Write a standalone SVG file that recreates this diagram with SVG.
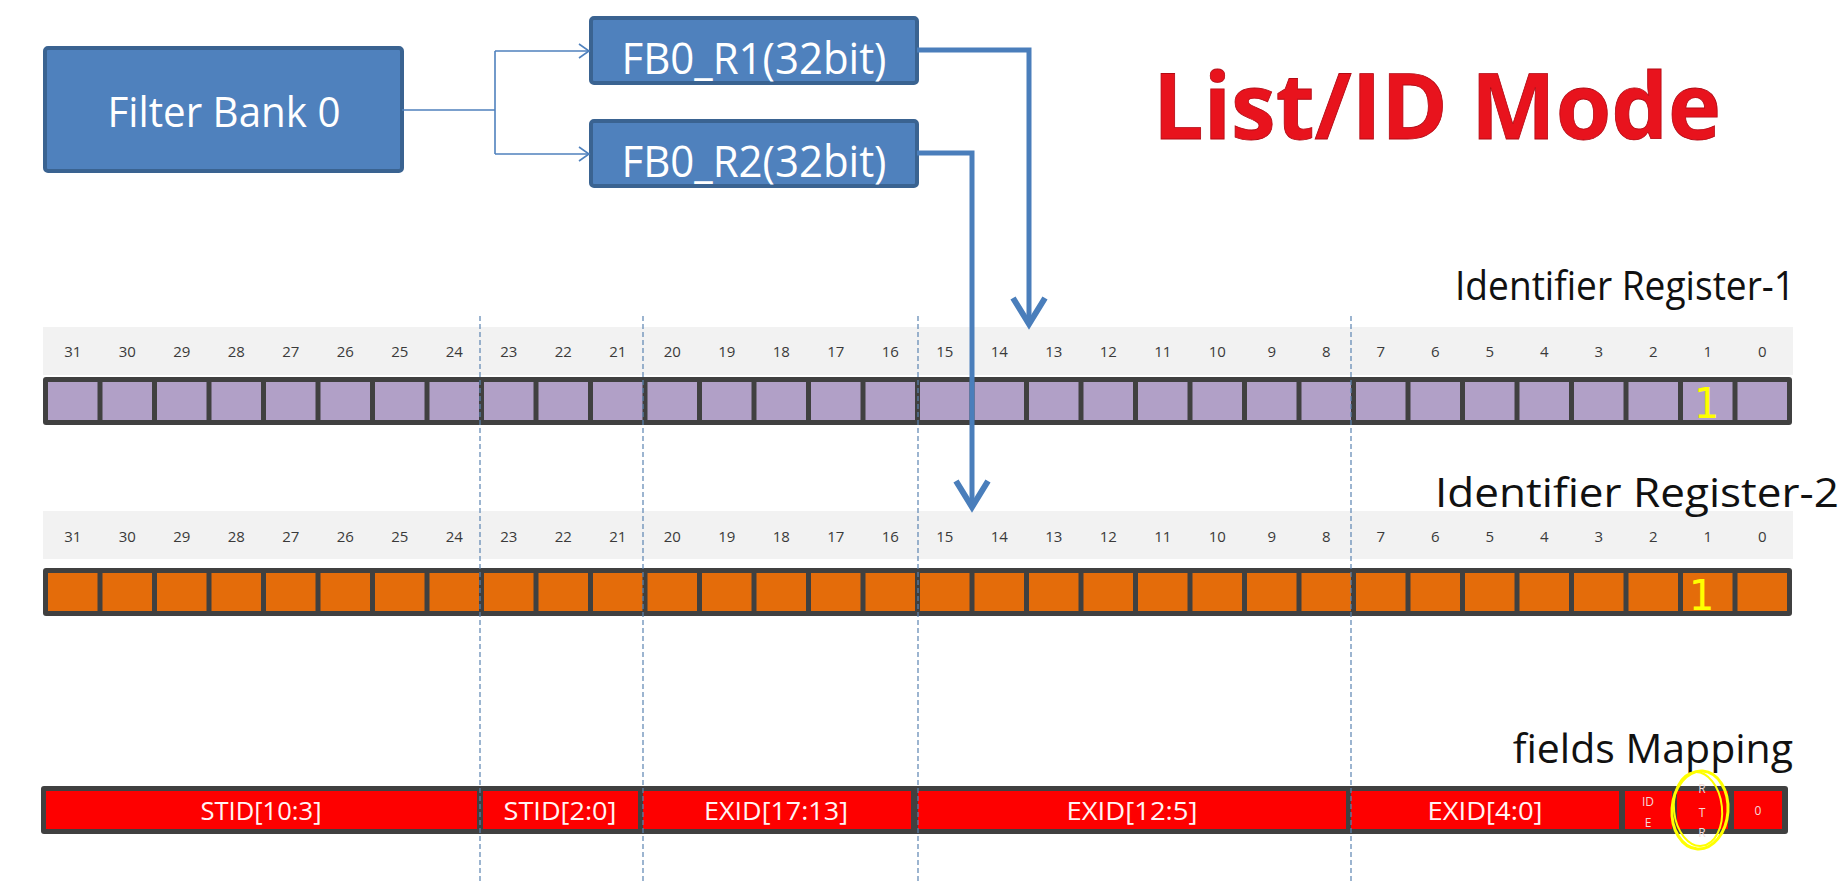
<svg xmlns="http://www.w3.org/2000/svg" width="1848" height="884" viewBox="0 0 1848 884">
<style>
.box{fill:#4f81bd;stroke:#3a6391;stroke-width:4}
.boxt{font-family:"Open Sans","Liberation Sans",sans-serif;fill:#fff;text-anchor:middle}
.strip{fill:#f2f2f2}
.bar{fill:#404040}
.pc{fill:#b1a0c7}
.oc{fill:#e46c0a}
.rc{fill:#fe0000}
.num{font-family:"Open Sans","Liberation Sans",sans-serif;font-size:15px;fill:#3a3a3a;text-anchor:middle}
.lbl{font-family:"Open Sans","Liberation Sans",sans-serif;font-size:41px;fill:#111;text-anchor:end}
.ft{font-family:"Open Sans","Liberation Sans",sans-serif;font-size:25px;fill:#fff4f4;text-anchor:middle}
.sm{font-family:"Open Sans","Liberation Sans",sans-serif;font-size:12px;fill:#f4dada;text-anchor:middle}
.one{font-family:"DejaVu Sans Mono","Liberation Mono",monospace;font-size:42px;fill:#ffff00;text-anchor:middle}
.dash{stroke:#5b84b1;stroke-width:1.2;stroke-dasharray:5 3;fill:none}
.thin{stroke:#4f81bd;stroke-width:1.6;fill:none}
.thick{stroke:#4a7ebb;stroke-width:5;fill:none;stroke-linejoin:miter}
</style>
<defs>
<marker id="ah" markerUnits="userSpaceOnUse" viewBox="-14 -10 20 20" markerWidth="20" markerHeight="20" refX="0" refY="0" orient="auto" overflow="visible">
<path d="M-10,-7 L0,0 L-10,7" fill="none" stroke="#4f81bd" stroke-width="1.6"/>
</marker>
<marker id="bh" markerUnits="userSpaceOnUse" viewBox="-34 -20 40 40" markerWidth="40" markerHeight="40" refX="0" refY="0" orient="auto" overflow="visible">
<path d="M-27,-16 L-1,0 L-27,16" fill="none" stroke="#4a7ebb" stroke-width="6" stroke-linejoin="miter"/>
</marker>
</defs>
<rect width="1848" height="884" fill="#fff"/>

<text x="1153" y="139" font-family="'Open Sans','Liberation Sans',sans-serif" font-weight="bold" font-size="91" fill="#e8131d" stroke="#b30a14" stroke-width="0.8" textLength="568" lengthAdjust="spacingAndGlyphs">List/ID Mode</text>

<g id="filter-bank-0">
<rect class="box" x="45" y="48" width="357" height="123" rx="3"/>
<text class="boxt" x="224" y="127" font-size="42" textLength="233" lengthAdjust="spacingAndGlyphs">Filter Bank 0</text>
</g>
<g id="fb0-r1">
<rect class="box" x="591" y="18" width="326" height="65" rx="3"/>
<text class="boxt" x="754" y="74" font-size="44" textLength="265" lengthAdjust="spacingAndGlyphs">FB0_R1(32bit)</text>
</g>
<g id="fb0-r2">
<rect class="box" x="591" y="121" width="326" height="65" rx="3"/>
<text class="boxt" x="754" y="177" font-size="44" textLength="265" lengthAdjust="spacingAndGlyphs">FB0_R2(32bit)</text>
</g>

<g id="register-1">
<rect class="strip" x="43" y="327" width="1750" height="48"/>
<text class="lbl" x="1795" y="300" font-size="38" textLength="340" lengthAdjust="spacingAndGlyphs">Identifier Register-1</text>
<rect class="bar" x="43" y="377" width="1749" height="48" rx="3"/>
<g class="pc">
<rect x="48" y="382" width="49.5" height="38"/><rect x="102.5" y="382" width="49.5" height="38"/><rect x="157" y="382" width="49.5" height="38"/><rect x="211.5" y="382" width="49.5" height="38"/><rect x="266" y="382" width="49.5" height="38"/><rect x="320.5" y="382" width="49.5" height="38"/><rect x="375" y="382" width="49.5" height="38"/><rect x="429.5" y="382" width="49.5" height="38"/><rect x="484" y="382" width="49.5" height="38"/><rect x="538.5" y="382" width="49.5" height="38"/><rect x="593" y="382" width="49.5" height="38"/><rect x="647.5" y="382" width="49.5" height="38"/><rect x="702" y="382" width="49.5" height="38"/><rect x="756.5" y="382" width="49.5" height="38"/><rect x="811" y="382" width="49.5" height="38"/><rect x="865.5" y="382" width="49.5" height="38"/><rect x="920" y="382" width="49.5" height="38"/><rect x="974.5" y="382" width="49.5" height="38"/><rect x="1029" y="382" width="49.5" height="38"/><rect x="1083.5" y="382" width="49.5" height="38"/><rect x="1138" y="382" width="49.5" height="38"/><rect x="1192.5" y="382" width="49.5" height="38"/><rect x="1247" y="382" width="49.5" height="38"/><rect x="1301.5" y="382" width="49.5" height="38"/><rect x="1356" y="382" width="49.5" height="38"/><rect x="1410.5" y="382" width="49.5" height="38"/><rect x="1465" y="382" width="49.5" height="38"/><rect x="1519.5" y="382" width="49.5" height="38"/><rect x="1574" y="382" width="49.5" height="38"/><rect x="1628.5" y="382" width="49.5" height="38"/><rect x="1683" y="382" width="49.5" height="38"/><rect x="1737.5" y="382" width="49.5" height="38"/>
</g>
<g class="num">
<text x="72.75" y="357">31</text><text x="127.25" y="357">30</text><text x="181.75" y="357">29</text><text x="236.25" y="357">28</text><text x="290.75" y="357">27</text><text x="345.25" y="357">26</text><text x="399.75" y="357">25</text><text x="454.25" y="357">24</text><text x="508.75" y="357">23</text><text x="563.25" y="357">22</text><text x="617.75" y="357">21</text><text x="672.25" y="357">20</text><text x="726.75" y="357">19</text><text x="781.25" y="357">18</text><text x="835.75" y="357">17</text><text x="890.25" y="357">16</text><text x="944.75" y="357">15</text><text x="999.25" y="357">14</text><text x="1053.75" y="357">13</text><text x="1108.25" y="357">12</text><text x="1162.75" y="357">11</text><text x="1217.25" y="357">10</text><text x="1271.75" y="357">9</text><text x="1326.25" y="357">8</text><text x="1380.75" y="357">7</text><text x="1435.25" y="357">6</text><text x="1489.75" y="357">5</text><text x="1544.25" y="357">4</text><text x="1598.75" y="357">3</text><text x="1653.25" y="357">2</text><text x="1707.75" y="357">1</text><text x="1762.25" y="357">0</text>
</g>
<text class="one" x="1706" y="418">1</text>
</g>

<g id="register-2">
<rect class="strip" x="43" y="511" width="1750" height="48"/>
<text class="lbl" x="1839" y="507" font-size="43" textLength="404" lengthAdjust="spacingAndGlyphs">Identifier Register-2</text>
<rect class="bar" x="43" y="568" width="1749" height="48" rx="3"/>
<g class="oc">
<rect x="48" y="573" width="49.5" height="38"/><rect x="102.5" y="573" width="49.5" height="38"/><rect x="157" y="573" width="49.5" height="38"/><rect x="211.5" y="573" width="49.5" height="38"/><rect x="266" y="573" width="49.5" height="38"/><rect x="320.5" y="573" width="49.5" height="38"/><rect x="375" y="573" width="49.5" height="38"/><rect x="429.5" y="573" width="49.5" height="38"/><rect x="484" y="573" width="49.5" height="38"/><rect x="538.5" y="573" width="49.5" height="38"/><rect x="593" y="573" width="49.5" height="38"/><rect x="647.5" y="573" width="49.5" height="38"/><rect x="702" y="573" width="49.5" height="38"/><rect x="756.5" y="573" width="49.5" height="38"/><rect x="811" y="573" width="49.5" height="38"/><rect x="865.5" y="573" width="49.5" height="38"/><rect x="920" y="573" width="49.5" height="38"/><rect x="974.5" y="573" width="49.5" height="38"/><rect x="1029" y="573" width="49.5" height="38"/><rect x="1083.5" y="573" width="49.5" height="38"/><rect x="1138" y="573" width="49.5" height="38"/><rect x="1192.5" y="573" width="49.5" height="38"/><rect x="1247" y="573" width="49.5" height="38"/><rect x="1301.5" y="573" width="49.5" height="38"/><rect x="1356" y="573" width="49.5" height="38"/><rect x="1410.5" y="573" width="49.5" height="38"/><rect x="1465" y="573" width="49.5" height="38"/><rect x="1519.5" y="573" width="49.5" height="38"/><rect x="1574" y="573" width="49.5" height="38"/><rect x="1628.5" y="573" width="49.5" height="38"/><rect x="1683" y="573" width="49.5" height="38"/><rect x="1737.5" y="573" width="49.5" height="38"/>
</g>
<g class="num">
<text x="72.75" y="542">31</text><text x="127.25" y="542">30</text><text x="181.75" y="542">29</text><text x="236.25" y="542">28</text><text x="290.75" y="542">27</text><text x="345.25" y="542">26</text><text x="399.75" y="542">25</text><text x="454.25" y="542">24</text><text x="508.75" y="542">23</text><text x="563.25" y="542">22</text><text x="617.75" y="542">21</text><text x="672.25" y="542">20</text><text x="726.75" y="542">19</text><text x="781.25" y="542">18</text><text x="835.75" y="542">17</text><text x="890.25" y="542">16</text><text x="944.75" y="542">15</text><text x="999.25" y="542">14</text><text x="1053.75" y="542">13</text><text x="1108.25" y="542">12</text><text x="1162.75" y="542">11</text><text x="1217.25" y="542">10</text><text x="1271.75" y="542">9</text><text x="1326.25" y="542">8</text><text x="1380.75" y="542">7</text><text x="1435.25" y="542">6</text><text x="1489.75" y="542">5</text><text x="1544.25" y="542">4</text><text x="1598.75" y="542">3</text><text x="1653.25" y="542">2</text><text x="1707.75" y="542">1</text><text x="1762.25" y="542">0</text>
</g>
<text class="one" x="1701" y="610">1</text>
</g>

<g id="fields-mapping">
<text class="lbl" x="1793" y="763">fields Mapping</text>
<rect class="bar" x="41" y="786" width="1747" height="48" rx="3"/>
<g class="rc">
<rect x="46" y="791" width="431" height="38"/>
<rect x="483" y="791" width="155" height="38"/>
<rect x="643" y="791" width="268" height="38"/>
<rect x="918" y="791" width="428" height="38"/>
<rect x="1351" y="791" width="268" height="38"/>
<rect x="1625" y="791" width="47" height="38"/>
<rect x="1677" y="791" width="51" height="38"/>
<rect x="1734" y="791" width="48" height="38"/>
</g>
<text class="ft" x="261" y="820" textLength="121" lengthAdjust="spacingAndGlyphs">STID[10:3]</text>
<text class="ft" x="560" y="820" textLength="113" lengthAdjust="spacingAndGlyphs">STID[2:0]</text>
<text class="ft" x="776" y="820" textLength="144" lengthAdjust="spacingAndGlyphs">EXID[17:13]</text>
<text class="ft" x="1132" y="820" textLength="131" lengthAdjust="spacingAndGlyphs">EXID[12:5]</text>
<text class="ft" x="1485" y="820" textLength="115" lengthAdjust="spacingAndGlyphs">EXID[4:0]</text>
<text class="sm" x="1648" y="806">ID</text>
<text class="sm" x="1648" y="827">E</text>
<text class="sm" font-size="11" x="1702" y="793">R</text>
<text class="sm" font-size="11" x="1702" y="817">T</text>
<text class="sm" font-size="11" x="1702" y="837">R</text>
<text class="sm" x="1758" y="815">0</text>
<ellipse cx="1700" cy="810" rx="28" ry="39" fill="none" stroke="#ffff00" stroke-width="3" transform="rotate(4 1700 810)"/>
<ellipse cx="1698" cy="809" rx="24" ry="37" fill="none" stroke="#ffff00" stroke-width="2" transform="rotate(-6 1698 809)"/>
</g>

<g id="guides">
<line class="dash" x1="480" y1="316" x2="480" y2="884"/>
<line class="dash" x1="643" y1="316" x2="643" y2="884"/>
<line class="dash" x1="918" y1="316" x2="918" y2="884"/>
<line class="dash" x1="1351" y1="316" x2="1351" y2="884"/>
</g>

<g id="connectors">
<polyline class="thin" points="402,110 495,110"/>
<polyline class="thin" points="495,51 495,154"/>
<polyline class="thin" points="495,51 589,51" marker-end="url(#ah)"/>
<polyline class="thin" points="495,154 589,154" marker-end="url(#ah)"/>
<polyline class="thick" points="917,50 1029,50 1029,325" marker-end="url(#bh)"/>
<polyline class="thick" points="917,153 972,153 972,508" marker-end="url(#bh)"/>
</g>
</svg>
